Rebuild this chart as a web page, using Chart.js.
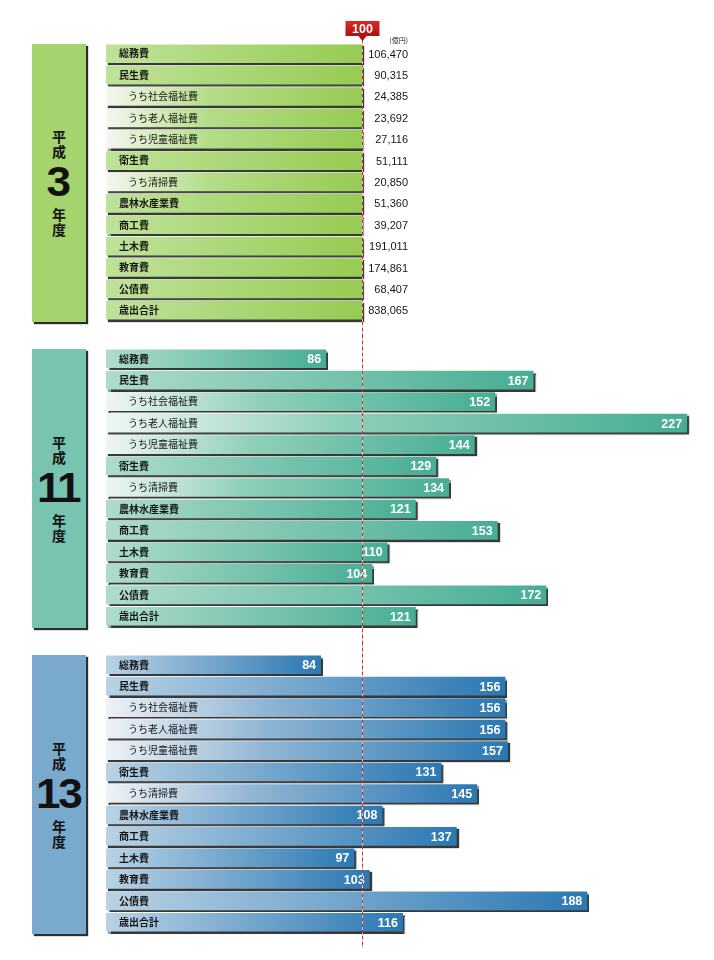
<!DOCTYPE html>
<html>
<head>
<meta charset="utf-8">
<script src="https://cdn.jsdelivr.net/npm/chart.js@4.4.1/dist/chart.umd.min.js"></script>
<style>
body{margin:0;background:#fff;font-family:"Noto Sans CJK JP",sans-serif}
#wrap{position:relative;width:714px;height:960px;overflow:hidden}
canvas{position:absolute;left:0}
.box{position:absolute;left:32px;width:54px;box-shadow:2px 2px 1px #2e2e2e;
  display:flex;flex-direction:column;align-items:center;justify-content:center;color:#111}
.box .k{font-weight:bold;font-size:14px;line-height:15px}
.box .n{font-family:"Liberation Sans",Arial,sans-serif;font-weight:bold;font-size:42px;line-height:36px;
  letter-spacing:-2px;margin:5px 0 7px 0;padding-right:2px;transform:scaleX(1.05)}
</style>
</head>
<body>
<div id="wrap">
  <div class="box" style="top:44px;height:278px;background:#a5d46f">
    <div class="k">平</div><div class="k">成</div><div class="n" id="y1"></div><div class="k">年</div><div class="k">度</div>
  </div>
  <div class="box" style="top:349px;height:279px;background:#78c4b0">
    <div class="k">平</div><div class="k">成</div><div class="n" id="y2"></div><div class="k">年</div><div class="k">度</div>
  </div>
  <div class="box" style="top:655px;height:279px;background:#79a9cd">
    <div class="k">平</div><div class="k">成</div><div class="n" id="y3"></div><div class="k">年</div><div class="k">度</div>
  </div>
  <canvas id="c1" width="714" height="317" style="top:18px"></canvas>
  <canvas id="c2" width="714" height="307" style="top:335px"></canvas>
  <canvas id="c3" width="714" height="306" style="top:642px"></canvas>
</div>
<script>
// 平成3年度を100とした指数
const years = ['3', '11', '13'];
const categories = ['総務費','民生費','うち社会福祉費','うち老人福祉費','うち児童福祉費','衛生費','うち清掃費',
  '農林水産業費','商工費','土木費','教育費','公債費','歳出合計'];
const amountsH3 = [106470, 90315, 24385, 23692, 27116, 51111, 20850, 51360, 39207, 191011, 174861, 68407, 838065];
const indexH3 = [100, 100, 100, 100, 100, 100, 100, 100, 100, 100, 100, 100, 100];
const indexH11 = [86, 167, 152, 227, 144, 129, 134, 121, 153, 110, 104, 172, 121];
const indexH13 = [84, 156, 156, 156, 157, 131, 145, 108, 137, 97, 103, 188, 116];
const baseIndex = 100;
const unitLabel = '(億円)';

document.getElementById('y1').textContent = years[0];
document.getElementById('y2').textContent = years[1];
document.getElementById('y3').textContent = years[2];

const themes = {
  green: {main: '#bfe29a', sub: '#f4f7ef', mid: '#b4dc88', end: '#97cb52'},
  teal:  {main: '#aedccb', sub: '#eef6f2', mid: '#8fcfba', end: '#47ad94'},
  blue:  {main: '#b9d2e5', sub: '#eef2f6', mid: '#8fb5d4', end: '#2b78b3'}
};

function isSub(i){ return categories[i].startsWith('うち'); }

function barFill(theme){
  return (ctx) => {
    const chart = ctx.chart, area = chart.chartArea;
    if (!area || ctx.type !== 'data') return theme.end;
    const x1 = chart.scales.x.getPixelForValue(ctx.raw);
    const g = chart.ctx.createLinearGradient(area.left, 0, x1, 0);
    if (isSub(ctx.dataIndex)) {
      g.addColorStop(0, theme.sub);
      g.addColorStop(0.4, theme.mid);
    } else {
      g.addColorStop(0, theme.main);
    }
    g.addColorStop(1, theme.end);
    return g;
  };
}

const shadow = {
  id: 'shadow',
  beforeDatasetsDraw(chart){
    const c = chart.ctx; c.save();
    c.shadowColor = 'rgba(35,35,35,0.9)'; c.shadowOffsetX = 2; c.shadowOffsetY = 2; c.shadowBlur = 1;
  },
  afterDatasetsDraw(chart){ chart.ctx.restore(); }
};

const labels = {
  id: 'labels',
  afterDatasetsDraw(chart, args, opts){
    const c = chart.ctx, meta = chart.getDatasetMeta(0), xs = chart.scales.x;
    const vals = chart.data.datasets[0].data;
    c.save();
    c.textBaseline = 'middle';
    meta.data.forEach((bar, i) => {
      const y = bar.y;
      c.fillStyle = '#151515';
      c.textAlign = 'left';
      c.font = (isSub(i) ? '' : 'bold ') + '10px "Noto Sans CJK JP"';
      c.fillText(categories[i], isSub(i) ? 128 : 119, y);
      c.textAlign = 'right';
      if (opts.amounts) {
        c.font = '11px "Liberation Sans", Arial';
        c.fillText(opts.amounts[i].toLocaleString('en-US'), 408, y + 1);
      } else {
        c.fillStyle = '#fff';
        c.font = 'bold 12.5px "Liberation Sans", Arial';
        c.fillText(String(vals[i]), xs.getPixelForValue(vals[i]) - 5, y + 1);
      }
    });
    c.restore();
  },
  afterDraw(chart, args, opts){
    const c = chart.ctx, x = Math.round(chart.scales.x.getPixelForValue(baseIndex)) + 0.5;
    const top = opts.lineTop || 0;
    c.save();
    c.strokeStyle = '#c8c8c8'; c.lineWidth = 1;
    c.beginPath(); c.moveTo(x, top); c.lineTo(x, chart.height); c.stroke();
    c.strokeStyle = '#d02a2a'; c.setLineDash([3, 3]);
    c.beginPath(); c.moveTo(x, top); c.lineTo(x, chart.height); c.stroke();
    c.setLineDash([]);
    if (opts.tag) {
      // 基準100のタグ
      const l = x - 17, r = x + 17, t = 3, b = 18;
      const g = c.createLinearGradient(0, t, 0, b + 5);
      g.addColorStop(0, '#dc2a22'); g.addColorStop(1, '#9c0c0c');
      c.fillStyle = g;
      c.beginPath();
      c.moveTo(l, t); c.lineTo(r, t); c.lineTo(r, b); c.lineTo(x + 4, b); c.lineTo(x, b + 5);
      c.lineTo(x - 4, b); c.lineTo(l, b); c.closePath(); c.fill();
      c.fillStyle = '#fff'; c.font = 'bold 12.5px "Liberation Sans", Arial';
      c.textAlign = 'center'; c.textBaseline = 'middle';
      c.fillText(String(baseIndex), x, (t + b) / 2 + 1);
      c.fillStyle = '#222'; c.font = '7px "Noto Sans CJK JP"'; c.textAlign = 'right';
      c.fillText(unitLabel, 408, 22);
    }
    c.restore();
  }
};

function makePanel(id, values, theme, pad, extra){
  return new Chart(document.getElementById(id), {
    type: 'bar',
    data: { labels: categories, datasets: [{ data: values, backgroundColor: barFill(theme),
      barPercentage: 0.87, categoryPercentage: 1, borderWidth: 0, clip: false }] },
    options: {
      indexAxis: 'y', responsive: false, animation: false,
      layout: { padding: { left: 106, right: 714 - 106 - 2.56 * 230, top: pad[0], bottom: pad[1] } },
      scales: {
        x: { display: false, min: 0, max: 230 },
        y: { display: false }
      },
      plugins: { legend: { display: false }, tooltip: { enabled: false }, labels: extra }
    },
    plugins: [shadow, labels]
  });
}

makePanel('c1', indexH3, themes.green, [25, 14], { amounts: amountsH3, tag: true, lineTop: 22 });
makePanel('c2', indexH11, themes.teal, [13, 15], {});
makePanel('c3', indexH13, themes.blue, [12, 15], {});
</script>
</body>
</html>
